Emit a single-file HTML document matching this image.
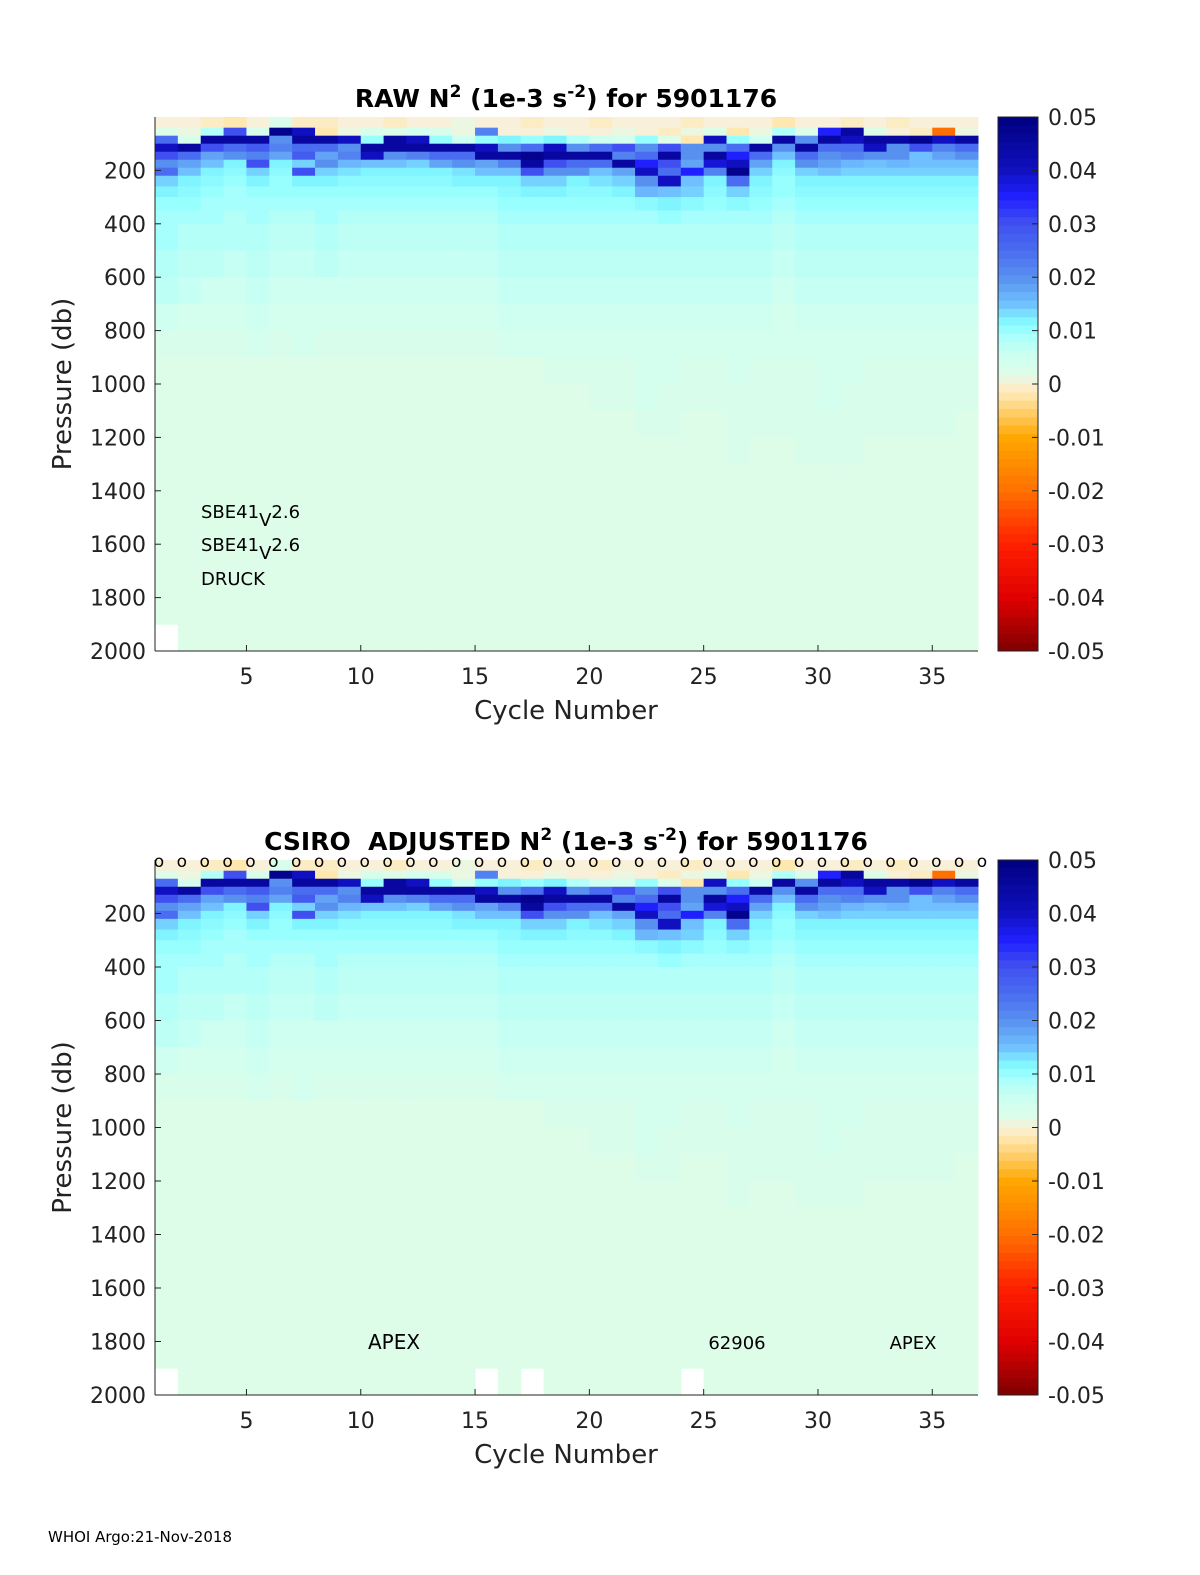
<!DOCTYPE html>
<html><head><meta charset="utf-8">
<style>
body{margin:0;background:#fff;}
svg{display:block;font-family:"DejaVu Sans","Liberation Sans",sans-serif;}
</style></head>
<body>
<svg id="fig" width="1200" height="1575" viewBox="0 0 1200 1575" xmlns="http://www.w3.org/2000/svg">
<rect width="1200" height="1575" fill="#fff"/>
<text x="48" y="1542" font-size="15">WHOI Argo:21-Nov-2018</text>
</svg>
<script>
// ---- data ----
const cycles = [1,2,3,4,5,6,7,8,9,10,11,12,13,14,15,16,17,18,19,20,21,22,23,24,25,26,27,28,29,30,31,32,33,34,35,36];
const depthEdges = [0,40,70,100,130,160,190,220,260,300,350,400,500,600,700,800,900,1000,1100,1200,1300,2000];
// N2 values in units of 1e-3 (0.001) per depth bin, one array per cycle
const n2 = [
[0,2,25,40,30,20,25,14,12,10,9,9,8,7,5,3,2,2,2,2,2],
[0,1,3,45,25,18,15,12,11,10,9,8,7,6,4,3,2,2,2,2,2],
[-1,8,45,30,18,15,12,11,10,9,9,8,7,5,4,3,2,2,2,2,2],
[-2,30,45,25,20,12,11,10,9,9,8,8,6,5,4,3,2,2,2,2,2],
[0,3,45,28,22,30,14,12,10,9,9,8,7,6,5,4,2,2,2,2,2],
[3,48,20,22,18,12,11,10,10,9,8,7,6,5,4,3,2,2,2,2,2],
[-1,40,45,25,28,14,30,12,10,9,8,7,6,5,4,4,2,2,2,2,2],
[-1,-2,45,25,18,20,14,12,10,9,9,8,7,5,4,3,2,2,2,2,2],
[0,1,40,20,22,16,13,11,10,9,8,7,6,5,4,3,2,2,2,2,2],
[0,3,10,45,40,15,12,11,10,9,8,7,6,5,4,3,2,2,2,2,2],
[-1,2,45,45,20,15,12,11,10,9,8,7,6,5,4,3,2,2,2,2,2],
[0,4,40,45,22,14,12,11,10,9,8,7,6,5,4,3,2,2,2,2,2],
[0,3,10,45,25,18,12,11,10,9,8,7,6,5,4,3,2,2,2,2,2],
[1,1,5,45,25,20,13,12,10,9,8,7,6,5,4,3,2,2,2,2,2],
[0,22,10,40,45,18,15,12,10,9,8,7,6,5,4,3,2,2,2,2,2],
[0,0,12,20,45,22,15,12,11,10,9,8,7,6,5,4,2,2,2,2,2],
[-1,0,10,25,48,45,30,14,12,10,9,8,7,6,5,4,2,2,2,2,2],
[0,1,12,40,45,30,20,14,12,10,9,8,7,6,5,4,3,2,2,2,2],
[0,0,8,20,45,25,20,12,11,10,9,8,7,6,5,4,3,2,2,2,2],
[-1,0,5,25,45,25,15,13,11,10,9,8,7,6,5,4,3,3,2,2,2],
[0,1,4,30,22,45,18,14,12,10,9,8,7,6,5,4,3,3,2,2,2],
[0,0,10,20,25,35,40,20,16,11,9,8,7,6,5,4,4,4,3,2,2],
[0,-1,2,30,45,30,25,40,15,12,10,8,7,6,5,4,4,3,3,2,2],
[-1,1,-2,20,20,18,35,15,14,11,9,8,7,6,5,4,3,3,2,2,2],
[0,2,40,20,45,38,22,12,11,10,9,8,7,6,5,4,3,3,2,2,2],
[0,-2,10,25,35,40,48,25,14,11,9,8,7,6,5,4,4,3,3,3,2],
[0,1,5,45,25,18,14,12,11,10,9,8,7,6,5,4,3,3,3,2,2],
[-2,8,45,20,15,12,11,10,10,9,8,7,6,5,4,4,3,3,3,2,2],
[0,2,20,45,25,20,14,12,11,10,9,8,7,6,5,4,3,3,3,3,2],
[0,35,45,25,20,18,15,12,11,10,9,8,7,6,5,4,4,4,3,3,2],
[-1,45,40,25,22,16,14,12,11,10,9,8,7,6,5,4,4,3,3,3,2],
[0,2,45,40,20,15,14,12,11,10,9,8,7,6,5,4,3,3,3,2,2],
[-1,0,45,20,20,16,14,12,11,10,9,8,7,6,5,4,3,3,3,2,2],
[0,-1,48,30,15,15,14,12,11,10,9,8,7,6,5,4,3,3,3,2,2],
[0,-20,40,22,18,15,14,12,11,10,9,8,7,6,5,4,3,3,3,2,2],
[0,1,45,25,20,15,14,12,11,10,9,8,7,6,5,4,3,3,2,2,2]
];
const maxPresRaw = [1900,2000,2000,2000,2000,2000,2000,2000,2000,2000,2000,2000,2000,2000,2000,2000,2000,2000,2000,2000,2000,2000,2000,2000,2000,2000,2000,2000,2000,2000,2000,2000,2000,2000,2000,2000];
const maxPresAdj = [1900,2000,2000,2000,2000,2000,2000,2000,2000,2000,2000,2000,2000,2000,1900,2000,1900,2000,2000,2000,2000,2000,2000,1900,2000,2000,2000,2000,2000,2000,2000,2000,2000,2000,2000,2000];
const xTicks = [5,10,15,20,25,30,35];
const yTicks = [200,400,600,800,1000,1200,1400,1600,1800,2000];
const cbTicks = [0.05,0.04,0.03,0.02,0.01,0,-0.01,-0.02,-0.03,-0.04,-0.05];
const cbLabels = ["0.05","0.04","0.03","0.02","0.01","0","-0.01","-0.02","-0.03","-0.04","-0.05"];
const markerCycles = [1,2,3,4,5,6,7,8,9,10,11,12,13,14,15,16,17,18,19,20,21,22,23,24,25,26,27,28,29,30,31,32,33,34,35,36,37];

// colormap stops (value in 1e-3 units)
const cmV = [-50,-40,-30,-20,-10,-5,-2,0,2,5,8,10,12,15,20,25,30,35,40,50];
const cmC = ["#800000","#e00000","#ff2000","#ff7000","#ffa800","#ffd070","#ffe8b0","#f8f0d8","#ddfde9","#cffff0","#b4fff8","#98ffff","#80f4ff","#70c0ff","#5890f0","#4a6cf0","#4050f0","#2020ff","#1010c0","#000080"];
function hex(c){return [1,3,5].map(i=>parseInt(c.substr(i,2),16));}
function cmap(v){
  v=Math.max(-50,Math.min(50,v));
  for(let i=0;i<cmV.length-1;i++){
    if(v<=cmV[i+1]){const t=(v-cmV[i])/(cmV[i+1]-cmV[i]);const a=hex(cmC[i]),b=hex(cmC[i+1]);
      return "rgb("+a.map((x,k)=>Math.round(x+(b[k]-x)*t)).join(",")+")";}
  }
  return cmC[cmC.length-1];
}
const NS="http://www.w3.org/2000/svg";
const svg=document.getElementById('fig');
function el(tag,attrs,parent){const e=document.createElementNS(NS,tag);for(const k in attrs)e.setAttribute(k,attrs[k]);(parent||svg).appendChild(e);return e;}

function panel(top,bottom,titleHTML,maxPres,opts,prefix){
  const L=155,R=978;
  const xs=c=>L+(c-1)*(R-L)/36;
  const ys=p=>top+p*(bottom-top)/2000;
  const g=el('g',{});
  
  
  cycles.forEach((c,i)=>{
    for(let j=0;j<depthEdges.length-1;j++){
      const p0=depthEdges[j];let p1=Math.min(depthEdges[j+1],maxPres[i]);
      if(p1<=p0)continue;
      const r=el('rect',{x:xs(c),y:ys(p0),width:xs(c+1)-xs(c)+0.5,height:ys(p1)-ys(p0)+0.5,fill:cmap(n2[i][j])},g);
      
      
    }
  });
  xTicks.forEach(t=>{
    el('line',{x1:xs(t),x2:xs(t),y1:bottom,y2:bottom-6,stroke:'#222'},g);
    const tx=el('text',{x:xs(t),y:bottom+33,'font-size':22,'text-anchor':'middle',fill:'#222'},g);
    tx.textContent=t;
    
    
  });
  yTicks.forEach(t=>{
    el('line',{x1:L,x2:L+6,y1:ys(t),y2:ys(t),stroke:'#222'},g);
    const tx=el('text',{x:L-9,y:ys(t)+8,'font-size':22,'text-anchor':'end',fill:'#222'},g);
    tx.textContent=t;
    
    
  });
  el('line',{x1:L,x2:L,y1:top,y2:bottom,stroke:'#222'},g);
  el('line',{x1:L,x2:R,y1:bottom,y2:bottom,stroke:'#222'},g);
  const xt=el('text',{x:566,y:bottom+68,'font-size':26,'text-anchor':'middle',fill:'#222'},g);
  xt.textContent='Cycle Number';
  
  
  const yt=el('text',{x:0,y:0,'font-size':26,'text-anchor':'middle',fill:'#222',transform:'translate(71,'+((top+bottom)/2)+') rotate(-90)'},g);
  yt.textContent='Pressure (db)';
  
  
  const tt=el('text',{x:566,y:top-10,'font-size':25,'font-weight':'bold','text-anchor':'middle',fill:'#000'},g);
  tt.innerHTML=titleHTML;
  
  
  const cb=el('g',{},g);
  
  
  const cbs=v=>top+(0.05-v)*(bottom-top)/0.1;
  for(let k=0;k<64;k++){
    const v1=0.05-k*0.1/64, v2=0.05-(k+1)*0.1/64;
    el('rect',{x:998,y:cbs(v1),width:40,height:cbs(v2)-cbs(v1)+0.5,fill:cmap((v1+v2)/2*1000)},cb);
  }
  el('rect',{x:998,y:top,width:40,height:bottom-top,fill:'none',stroke:'#222'},cb);
  cbTicks.forEach((t,k)=>{
    el('line',{x1:1032,x2:1038,y1:cbs(t),y2:cbs(t),stroke:'#222'},cb);
    const tx=el('text',{x:1048,y:cbs(t)+8,'font-size':22,fill:'#222'},cb);
    tx.textContent=cbLabels[k];
    
    
  });
  return {xs,ys,g};
}

const p1=panel(117,651,'RAW N<tspan dy="-10" font-size="17">2</tspan><tspan dy="10"> (1e-3 s</tspan><tspan dy="-10" font-size="17">-2</tspan><tspan dy="10">) for 5901176</tspan>',maxPresRaw,{},'raw');
[['SBE41','V','2.6',518],['SBE41','V','2.6',551]].forEach(a=>{
  const t=el('text',{x:201,y:a[3],'font-size':18,fill:'#000'},p1.g);
  t.innerHTML=a[0]+'<tspan dy="8">'+a[1]+'</tspan><tspan dy="-8">'+a[2]+'</tspan>';
  
  
});
const dr=el('text',{x:201,y:585,'font-size':18,fill:'#000'},p1.g);
dr.textContent='DRUCK';



const p2=panel(860,1395,'CSIRO&#160; ADJUSTED N<tspan dy="-10" font-size="17">2</tspan><tspan dy="10"> (1e-3 s</tspan><tspan dy="-10" font-size="17">-2</tspan><tspan dy="10">) for 5901176</tspan>',maxPresAdj,{},'adjusted');
markerCycles.forEach(c=>{
  const m=el('text',{x:p2.xs(c)+4,y:867,'font-size':17,'text-anchor':'middle',fill:'#000'},p2.g);
  m.textContent='o';
  
  
});
[['APEX',394,20],['62906',737,18],['APEX',913,18]].forEach(a=>{
  const t=el('text',{x:a[1],y:1349,'font-size':a[2],'text-anchor':'middle',fill:'#000'},p2.g);
  t.textContent=a[0];
  
  
});
</script>
</body></html>
